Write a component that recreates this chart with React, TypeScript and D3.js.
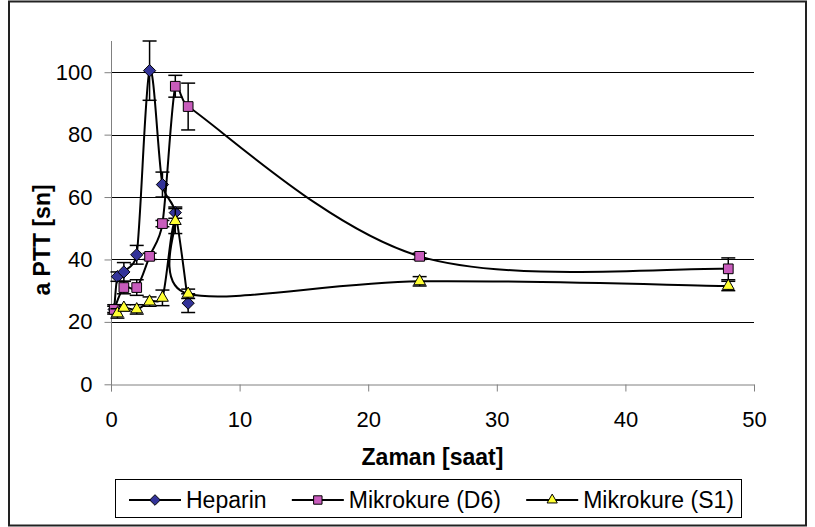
import React, { useEffect, useRef } from "react";
import * as d3 from "d3";

// zaman [saat] ve aPTT [sn] değerleri
const heparinTime = [0.25, 0.5, 1, 2, 3, 4, 5, 6];
const heparinAptt = [24, 34.5, 36, 41.5, 100.5, 64, 55, 26];
const heparinErr = [1.5, 1.5, 3, 3, 9.5, 4, 1.8, 3];

const d6Time = [0.25, 1, 2, 3, 4, 5, 6, 24, 48];
const d6Aptt = [24, 31, 31, 41, 51.5, 95.5, 89, 41, 37];
const d6Err = [1, 2, 2.5, 1, 1, 3.5, 7.5, 1, 3.5];

const s1Time = [0.5, 1, 2, 3, 4, 5, 6, 24, 48];
const s1Aptt = [22.7, 24.5, 24, 26.5, 27.7, 52.3, 29, 33, 31.5];
const s1Err = [1.5, 1, 1.5, 1.5, 2.5, 4, 1.5, 1.5, 1.5];

const seriesNames = ["Heparin", "Mikrokure (D6)", "Mikrokure (S1)"];
const xTicks = [0, 10, 20, 30, 40, 50];
const yTicks = [0, 20, 40, 60, 80, 100];

const W = 815;
const H = 527;

// Excel tarzı yumuşatılmış çizgi (Bezier, kontrol noktaları sınırlı)
function smoothPath(p) {
  const path = d3.path();
  if (!p.length) return "";
  path.moveTo(p[0][0], p[0][1]);
  const dist = (a, b) => Math.hypot(b[0] - a[0], b[1] - a[1]);
  for (let i = 0; i < p.length - 1; i++) {
    const p0 = p[Math.max(i - 1, 0)];
    const p1 = p[i];
    const p2 = p[i + 1];
    const p3 = p[Math.min(i + 2, p.length - 1)];
    const d12 = dist(p1, p2);
    const d02 = dist(p0, p2);
    const d13 = dist(p1, p3);
    let f1 = 1 / 6;
    let f2 = 1 / 6;
    if (d02 * f1 > d12 / 2) f1 = d12 / (2 * d02);
    if (d13 * f2 > d12 / 2) f2 = d12 / (2 * d13);
    path.bezierCurveTo(
      p1[0] + (p2[0] - p0[0]) * f1,
      p1[1] + (p2[1] - p0[1]) * f1,
      p2[0] - (p3[0] - p1[0]) * f2,
      p2[1] - (p3[1] - p1[1]) * f2,
      p2[0],
      p2[1]
    );
  }
  return path.toString();
}

const App = () => {
  const svgRef = useRef(null);

  useEffect(() => {
    document.body.style.margin = "0";
    const svg = d3.select(svgRef.current);
    svg.selectAll("*").remove();

    const font = "'Liberation Sans', Arial, sans-serif";

    const x = d3.scaleLinear().domain([0, 50]).range([111, 754]);
    const y = d3.scaleLinear().domain([0, 110]).range([384.3, 41]);

    // dış çerçeve
    svg
      .append("rect")
      .attr("x", 9)
      .attr("y", 1.5)
      .attr("width", 797)
      .attr("height", 524)
      .attr("fill", "white")
      .attr("stroke", "#222")
      .attr("stroke-width", 2);

    // yatay kılavuz çizgileri
    svg
      .append("g")
      .selectAll("line")
      .data(yTicks.filter((d) => d > 0))
      .join("line")
      .attr("x1", x(0))
      .attr("x2", x(50))
      .attr("y1", (d) => Math.round(y(d)) + 0.5)
      .attr("y2", (d) => Math.round(y(d)) + 0.5)
      .attr("stroke", "#000")
      .attr("stroke-width", 1);

    // y ekseni
    const yAxis = d3
      .axisLeft(y)
      .tickValues(yTicks)
      .tickSize(7)
      .tickPadding(12)
      .tickSizeOuter(0);
    const gy = svg
      .append("g")
      .attr("transform", `translate(${Math.round(x(0)) + 0.5},0)`)
      .call(yAxis);
    gy.select(".domain").attr("stroke", "#808080").attr("d", `M0,${y(110)}V${y(0) + 7}`);
    gy.selectAll(".tick line").attr("stroke", "#808080");
    gy.selectAll(".tick text")
      .attr("font-family", font)
      .attr("font-size", 22)
      .attr("fill", "#000");

    // x ekseni
    const xAxis = d3
      .axisBottom(x)
      .tickValues(xTicks)
      .tickSize(7)
      .tickPadding(20)
      .tickSizeOuter(0);
    const gx = svg
      .append("g")
      .attr("transform", `translate(0,${Math.round(y(0)) + 0.5})`)
      .call(xAxis);
    gx.select(".domain").attr("stroke", "#808080");
    gx.selectAll(".tick line").attr("stroke", "#808080");
    gx.selectAll(".tick text")
      .attr("font-family", font)
      .attr("font-size", 22)
      .attr("fill", "#000");

    // eksen başlıkları
    svg
      .append("text")
      .attr("x", (x(0) + x(50)) / 2)
      .attr("y", 465)
      .attr("text-anchor", "middle")
      .attr("font-family", font)
      .attr("font-weight", "bold")
      .attr("font-size", 23)
      .text("Zaman [saat]");

    svg
      .append("text")
      .attr("transform", `translate(50,240) rotate(-90)`)
      .attr("text-anchor", "middle")
      .attr("font-family", font)
      .attr("font-weight", "bold")
      .attr("font-size", 23)
      .text("a PTT [sn]");

    const symbols = [d3.symbolDiamond2, d3.symbolSquare2, d3.symbolTriangle2];
    const symbolSizes = [96, 120, 100];
    const fills = ["#333399", "#c85cbc", "#ffff33"];

    const series = [
      { t: heparinTime, v: heparinAptt, e: heparinErr },
      { t: d6Time, v: d6Aptt, e: d6Err },
      { t: s1Time, v: s1Aptt, e: s1Err },
    ];

    series.forEach((s, k) => {
      const pts = s.t.map((t, i) => [t, s.v[i], s.e[i]]);
      const g = svg.append("g");

      g.append("path")
        .attr("d", smoothPath(pts.map((d) => [x(d[0]), y(d[1])])))
        .attr("fill", "none")
        .attr("stroke", "#000")
        .attr("stroke-width", 2);

      // hata çubukları
      const eb = g.append("g").selectAll("g").data(pts).join("g");
      eb.append("line")
        .attr("x1", (d) => x(d[0]))
        .attr("x2", (d) => x(d[0]))
        .attr("y1", (d) => y(d[1] - d[2]))
        .attr("y2", (d) => y(d[1] + d[2]))
        .attr("stroke", "#000")
        .attr("stroke-width", 1.5);
      [1, -1].forEach((sgn) => {
        eb.append("line")
          .attr("x1", (d) => x(d[0]) - 7)
          .attr("x2", (d) => x(d[0]) + 7)
          .attr("y1", (d) => y(d[1] + sgn * d[2]))
          .attr("y2", (d) => y(d[1] + sgn * d[2]))
          .attr("stroke", "#000")
          .attr("stroke-width", 1.5);
      });

      g.append("g")
        .selectAll("path")
        .data(pts)
        .join("path")
        .attr("transform", (d) => `translate(${x(d[0])},${y(d[1])})`)
        .attr("d", d3.symbol(symbols[k], symbolSizes[k]))
        .attr("fill", fills[k])
        .attr("stroke", "#000")
        .attr("stroke-width", 1);
    });

    // lejant
    const legend = svg.append("g");
    legend
      .append("rect")
      .attr("x", 115.5)
      .attr("y", 479.5)
      .attr("width", 626)
      .attr("height", 38)
      .attr("fill", "white")
      .attr("stroke", "#000")
      .attr("stroke-width", 1);

    const ly = 500;
    const items = seriesNames.map((name, k) => {
      const lg = legend.append("g");
      lg.append("line")
        .attr("x1", 0)
        .attr("x2", 52)
        .attr("stroke", "#000")
        .attr("stroke-width", 2);
      lg.append("path")
        .attr("transform", "translate(26,0)")
        .attr("d", d3.symbol(symbols[k], symbolSizes[k] * 0.75))
        .attr("fill", fills[k])
        .attr("stroke", "#000")
        .attr("stroke-width", 1);
      const txt = lg
        .append("text")
        .attr("x", 57)
        .attr("y", 8)
        .attr("font-family", font)
        .attr("font-size", 23)
        .text(name);
      return { lg, w: 57 + txt.node().getComputedTextLength() };
    });
    const left = 129;
    const right = 734;
    const total = d3.sum(items, (d) => d.w);
    const gap = (right - left - total) / (items.length - 1);
    let cx = left;
    items.forEach((it) => {
      it.lg.attr("transform", `translate(${cx},${ly})`);
      cx += it.w + gap;
    });
  }, []);

  return <svg ref={svgRef} width={W} height={H} style={{ display: "block" }}></svg>;
};

export default App;
